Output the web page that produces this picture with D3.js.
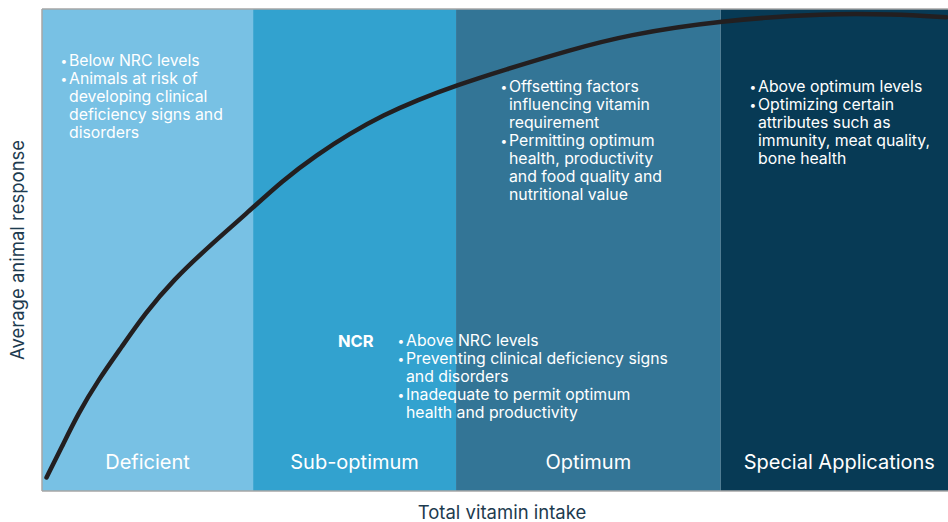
<!DOCTYPE html>
<html>
<head>
<meta charset="utf-8">
<script src="https://cdn.jsdelivr.net/npm/d3@7"></script>
<style>
  body { margin: 0; background: #fff; }
  text { font-family: Inter, "Open Sans", sans-serif; }
</style>
</head>
<body>
<svg width="948" height="522"></svg>
<script>
const svg = d3.select('svg');
const WIDTH = +svg.attr('width');
const HEIGHT = +svg.attr('height');

// zones along total vitamin intake (0-100)
const zoneNames = ["Deficient", "Sub-optimum", "Optimum", "Special Applications"];
const zoneStarts = [0, 23.3, 45.7, 74.9];
const zoneEnds = [23.3, 45.7, 74.9, 100];
const zoneColors = ["#78c1e4", "#32a2cf", "#337596", "#073a55"];

// response curve
const intake = [0.5, 2.2, 4.0, 6.2, 8.8, 11.4, 14.5, 18.4, 22.6, 26.6, 30.3, 34.0, 37.7, 41.4, 45.8, 50.9, 58.3, 64.5, 74.8, 86.6, 93.9, 99.8];
const response = [2.8, 9.2, 16.1, 23.0, 29.9, 36.9, 43.8, 50.7, 57.6, 64.5, 69.7, 74.2, 78.0, 81.1, 84.2, 87.3, 91.5, 94.6, 97.6, 99.1, 98.9, 98.3];

// notes in each zone
const deficientNotes = [["Below NRC levels"], ["Animals at risk of", "developing clinical", "deficiency signs and", "disorders"]];
const ncrNotes = [["Above NRC levels"], ["Preventing clinical deficiency signs", "and disorders"], ["Inadequate to permit optimum", "health and productivity"]];
const optimumNotes = [["Offsetting factors", "influencing vitamin", "requirement"], ["Permitting optimum", "health, productivity", "and food quality and", "nutritional value"]];
const specialNotes = [["Above optimum levels"], ["Optimizing certain", "attributes such as", "immunity, meat quality,", "bone health"]];

const margin = {top: 9, left: 42, right: 0, bottom: 31};
const width = WIDTH - margin.left - margin.right;
const height = HEIGHT - margin.top - margin.bottom;

const x = d3.scaleLinear().domain([0, 100]).range([0, width]);
const y = d3.scaleLinear().domain([0, 100]).range([height, 0]);

const g = svg.append('g')
    .attr('transform', 'translate(' + margin.left + ',' + margin.top + ')');

const zones = zoneNames.map((n, i) => ({name: n, start: zoneStarts[i], end: zoneEnds[i], color: zoneColors[i]}));

g.selectAll('.zone')
    .data(zones)
    .enter().append('rect')
    .attr('class', 'zone')
    .attr('x', d => x(d.start))
    .attr('y', 0)
    .attr('width', d => x(d.end) - x(d.start))
    .attr('height', height)
    .style('fill', d => d.color);

g.selectAll('.zone-label')
    .data(zones)
    .enter().append('text')
    .attr('class', 'zone-label')
    .attr('x', (d, i) => (x(d.start) + x(d.end)) / 2 + (i == 3 ? 5 : 0))
    .attr('y', height - 22)
    .attr('text-anchor', 'middle')
    .style('fill', '#fff')
    .style('font-size', '20px')
    .text(d => d.name);

// frame: left, top, bottom
const frame = g.append('g').style('stroke', '#a6a6a6').style('stroke-width', 1.5);
frame.append('line').attr('x1', 0).attr('x2', 0).attr('y1', 0).attr('y2', height);
frame.append('line').attr('x1', 0).attr('x2', width).attr('y1', 0).attr('y2', 0);
frame.append('line').attr('x1', 0).attr('x2', width).attr('y1', height).attr('y2', height);

const line = d3.line()
    .x((d, i) => x(intake[i]))
    .y(d => y(d))
    .curve(d3.curveBasis);

g.append('path')
    .datum(response)
    .attr('d', line)
    .style('fill', 'none')
    .style('stroke', '#231f20')
    .style('stroke-width', 4.5)
    .style('stroke-linecap', 'round');

// one text block per zone, bullets with hanging indent
let drawNotes = (notes, bx, top) => {
    const t = svg.append('text')
        .attr('x', bx)
        .attr('y', top)
        .style('fill', '#fff')
        .style('font-size', '15.8px');
    let first = true;
    notes.forEach(item => {
        item.forEach((s, j) => {
            if (j == 0) {
                t.append('tspan')
                    .attr('x', bx + 0.5)
                    .attr('dy', first ? 0 : 18)
                    .style('font-size', '12px')
                    .style('baseline-shift', '1.5px')
                    .text('\u2022');
                t.append('tspan')
                    .attr('x', bx + 9)
                    .attr('dy', 0)
                    .text(s);
            } else {
                t.append('tspan')
                    .attr('x', bx + 9)
                    .attr('dy', 18)
                    .text(s);
            }
            first = false;
        });
    });
};

drawNotes(deficientNotes, 60, 66);
drawNotes(optimumNotes, 500, 92);
drawNotes(specialNotes, 749, 92);
drawNotes(ncrNotes, 397, 346);

svg.append('text')
    .attr('x', 338)
    .attr('y', 347)
    .style('fill', '#fff')
    .style('font-size', '16.5px')
    .style('font-weight', 'bold')
    .text('NCR');

svg.append('text')
    .attr('x', 502)
    .attr('y', 519)
    .attr('text-anchor', 'middle')
    .style('fill', '#1d3b4f')
    .style('font-size', '18.5px')
    .text('Total vitamin intake');

svg.append('text')
    .attr('transform', 'translate(24,' + (margin.top + height / 2) + ') rotate(-90)')
    .attr('text-anchor', 'middle')
    .style('fill', '#1d3b4f')
    .style('font-size', '18.5px')
    .text('Average animal response');
</script>
</body>
</html>
